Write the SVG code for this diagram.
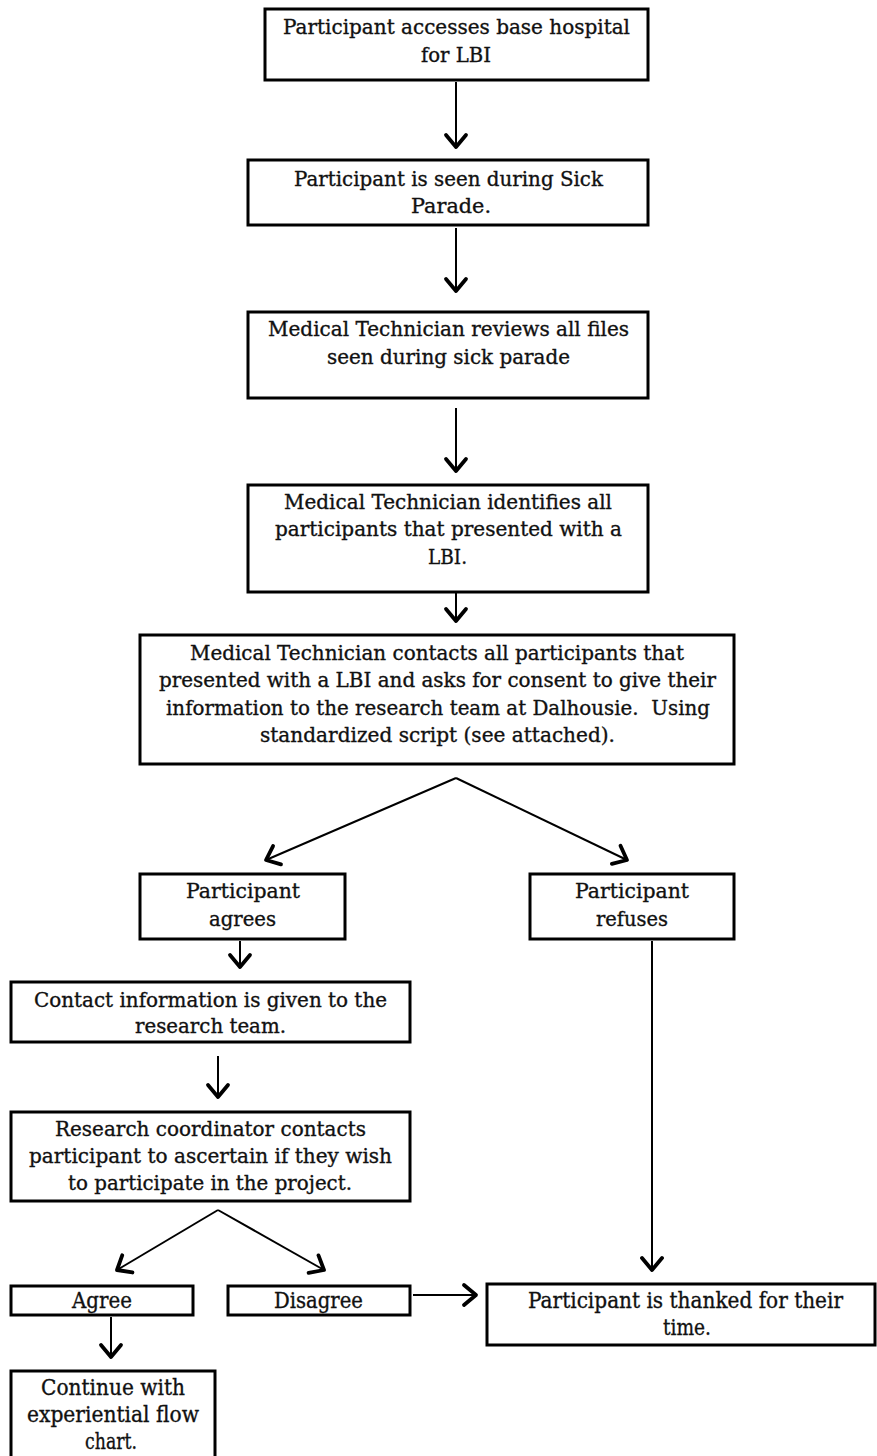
<svg xmlns="http://www.w3.org/2000/svg" width="877" height="1456" viewBox="0 0 877 1456">
<style>
.box{fill:#fff;stroke:#000;stroke-width:3}
.t{font-family:"DejaVu Serif","Liberation Serif",serif;font-size:20.5px;fill:#111;stroke:#111;stroke-width:0.35;text-anchor:middle}
.tc{font-family:"DejaVu Serif","Liberation Serif",serif;font-size:22px;fill:#111;stroke:#111;stroke-width:0.35;text-anchor:middle}
.c{fill:none;stroke:#000;stroke-width:2}
</style>
<defs>
<marker id="ah" viewBox="-16 -13 20 26" refX="0" refY="0" markerWidth="20" markerHeight="26" markerUnits="userSpaceOnUse" orient="auto">
<path d="M-12,-10 L0,0 L-12,10" fill="none" stroke="#000" stroke-width="3.8" stroke-linejoin="round" stroke-linecap="round"/>
</marker>
</defs>
<rect width="877" height="1456" fill="#fff"/>
<g id="connectors">
<line class="c" x1="456" y1="82" x2="456" y2="147" marker-end="url(#ah)"/>
<line class="c" x1="456" y1="228" x2="456" y2="291" marker-end="url(#ah)"/>
<line class="c" x1="456" y1="408" x2="456" y2="471" marker-end="url(#ah)"/>
<line class="c" x1="456" y1="582" x2="456" y2="621" marker-end="url(#ah)"/>
<line class="c" x1="456" y1="778" x2="266" y2="860" marker-end="url(#ah)"/>
<line class="c" x1="456" y1="778" x2="627" y2="860" marker-end="url(#ah)"/>
<line class="c" x1="240" y1="941" x2="240" y2="967" marker-end="url(#ah)"/>
<line class="c" x1="218" y1="1056" x2="218" y2="1097" marker-end="url(#ah)"/>
<line class="c" x1="218" y1="1210" x2="117" y2="1270" marker-end="url(#ah)"/>
<line class="c" x1="218" y1="1210" x2="324" y2="1270" marker-end="url(#ah)"/>
<line class="c" x1="652" y1="941" x2="652" y2="1270" marker-end="url(#ah)"/>
<line class="c" x1="413" y1="1295" x2="476" y2="1295" marker-end="url(#ah)"/>
<line class="c" x1="111" y1="1317" x2="111" y2="1357" marker-end="url(#ah)"/>
</g>
<g id="n1"><rect class="box" x="265" y="9" width="383" height="71"/>
<text class="t"><tspan x="456.5" y="34" textLength="347" lengthAdjust="spacingAndGlyphs">Participant accesses base hospital</tspan><tspan x="456" y="62" textLength="70" lengthAdjust="spacingAndGlyphs">for LBI</tspan></text></g>
<g id="n2"><rect class="box" x="248" y="160" width="400" height="65"/>
<text class="t"><tspan x="448.5" y="186" textLength="309" lengthAdjust="spacingAndGlyphs">Participant is seen during Sick</tspan><tspan x="451" y="213" textLength="80" lengthAdjust="spacingAndGlyphs">Parade.</tspan></text></g>
<g id="n3"><rect class="box" x="248" y="312" width="400" height="86"/>
<text class="t"><tspan x="448.5" y="336" textLength="361" lengthAdjust="spacingAndGlyphs">Medical Technician reviews all files</tspan><tspan x="448.5" y="364" textLength="243" lengthAdjust="spacingAndGlyphs">seen during sick parade</tspan></text></g>
<g id="n4"><rect class="box" x="248" y="485" width="400" height="107"/>
<text class="t"><tspan x="448" y="509" textLength="328" lengthAdjust="spacingAndGlyphs">Medical Technician identifies all</tspan><tspan x="448.5" y="536" textLength="347" lengthAdjust="spacingAndGlyphs">participants that presented with a</tspan><tspan x="447.5" y="564" textLength="39" lengthAdjust="spacingAndGlyphs">LBI.</tspan></text></g>
<g id="n5"><rect class="box" x="140" y="635" width="594" height="129"/>
<text class="t"><tspan x="437" y="660" textLength="494" lengthAdjust="spacingAndGlyphs">Medical Technician contacts all participants that</tspan><tspan x="437.5" y="687" textLength="557" lengthAdjust="spacingAndGlyphs">presented with a LBI and asks for consent to give their</tspan><tspan x="438" y="715" textLength="544" lengthAdjust="spacingAndGlyphs">information to the research team at Dalhousie.&#160; Using</tspan><tspan x="437.5" y="742" textLength="355" lengthAdjust="spacingAndGlyphs">standardized script (see attached).</tspan></text></g>
<g id="n6"><rect class="box" x="140" y="874" width="205" height="65"/>
<text class="t"><tspan x="243" y="898" textLength="114" lengthAdjust="spacingAndGlyphs">Participant</tspan><tspan x="242.5" y="926" textLength="67" lengthAdjust="spacingAndGlyphs">agrees</tspan></text></g>
<g id="n7"><rect class="box" x="530" y="874" width="204" height="65"/>
<text class="t"><tspan x="632" y="898" textLength="114" lengthAdjust="spacingAndGlyphs">Participant</tspan><tspan x="632" y="926" textLength="72" lengthAdjust="spacingAndGlyphs">refuses</tspan></text></g>
<g id="n8"><rect class="box" x="11" y="982" width="399" height="60"/>
<text class="t"><tspan x="210.5" y="1007" textLength="353" lengthAdjust="spacingAndGlyphs">Contact information is given to the</tspan><tspan x="210.5" y="1033" textLength="151" lengthAdjust="spacingAndGlyphs">research team.</tspan></text></g>
<g id="n9"><rect class="box" x="11" y="1112" width="399" height="89"/>
<text class="t"><tspan x="210.5" y="1136" textLength="311" lengthAdjust="spacingAndGlyphs">Research coordinator contacts</tspan><tspan x="210.5" y="1163" textLength="363" lengthAdjust="spacingAndGlyphs">participant to ascertain if they wish</tspan><tspan x="210" y="1190" textLength="284" lengthAdjust="spacingAndGlyphs">to participate in the project.</tspan></text></g>
<g id="n10"><rect class="box" x="11" y="1286" width="182" height="29"/>
<text class="tc"><tspan x="102" y="1308" textLength="60" lengthAdjust="spacingAndGlyphs">Agree</tspan></text></g>
<g id="n11"><rect class="box" x="228" y="1286" width="182" height="29"/>
<text class="tc"><tspan x="318.5" y="1308" textLength="89" lengthAdjust="spacingAndGlyphs">Disagree</tspan></text></g>
<g id="n12"><rect class="box" x="487" y="1284" width="388" height="61"/>
<text class="tc"><tspan x="685.5" y="1308" textLength="315" lengthAdjust="spacingAndGlyphs">Participant is thanked for their</tspan><tspan x="687" y="1335" textLength="48" lengthAdjust="spacingAndGlyphs">time.</tspan></text></g>
<g id="n13"><rect class="box" x="11" y="1371" width="204" height="90"/>
<text class="tc"><tspan x="113" y="1395" textLength="144" lengthAdjust="spacingAndGlyphs">Continue with</tspan><tspan x="113" y="1422" textLength="172" lengthAdjust="spacingAndGlyphs">experiential flow</tspan><tspan x="111" y="1449" textLength="52" lengthAdjust="spacingAndGlyphs">chart.</tspan></text></g>
</svg>
